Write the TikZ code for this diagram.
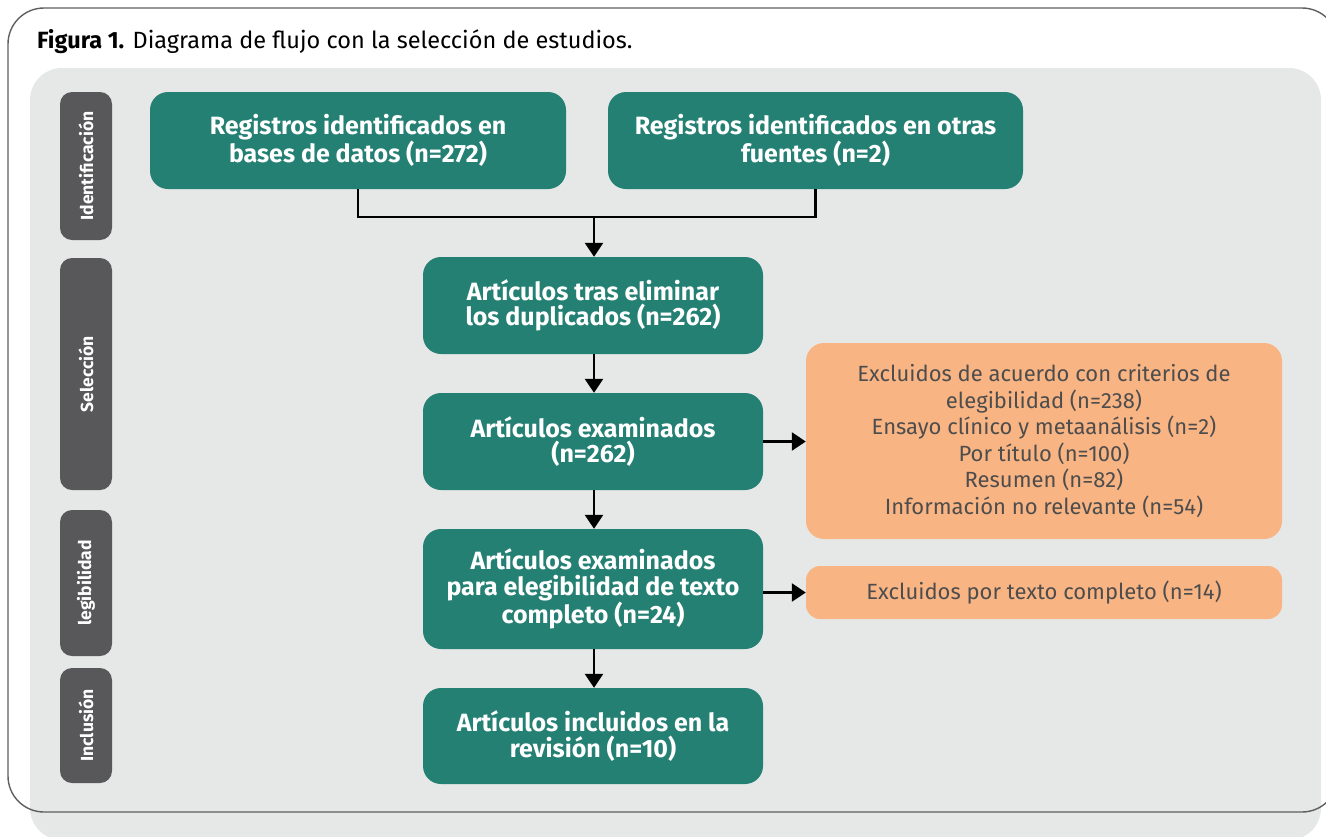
\documentclass[tikz,border=0pt]{standalone}
\usepackage{fontspec}
\setmainfont{Fira Sans}
\usetikzlibrary{arrows.meta}
\definecolor{teal1}{RGB}{36,128,115}
\definecolor{orng}{RGB}{249,180,131}
\definecolor{panel}{RGB}{229,232,231}
\definecolor{side}{RGB}{88,88,90}
\definecolor{frame}{RGB}{95,95,95}
\definecolor{otext}{RGB}{77,77,77}
\tikzset{
  gbox/.style={fill=teal1, rounded corners=18pt, text=white, align=center,
    font=\bfseries\fontsize{25}{25.5}\selectfont, inner sep=0pt},
  obox/.style={fill=orng, rounded corners=18pt, text=otext, align=center,
    font=\fontsize{22}{26.5}\selectfont, inner sep=0pt},
  sidebox/.style={fill=side, rounded corners=12pt, inner sep=0pt},
  sidetext/.style={text=white, rotate=90, font=\bfseries\fontsize{17.5}{18}\selectfont},
  conn/.style={line width=2.4pt, black},
  arr/.style={conn, -{Triangle[length=14pt,width=18pt]}},
}
\begin{document}
\begin{tikzpicture}[x=1pt,y=-1pt]
\useasboundingbox (0,0) rectangle (1326,836);
\clip (0,0) rectangle (1326,836);
\fill[white] (0,0) rectangle (1326,836);
% panel
\fill[panel, rounded corners=32pt] (30,68) rectangle (1321,840);
% frame
\draw[frame, line width=1.4pt, rounded corners=36pt] (8,8) rectangle (1338,812);
% title
\node[anchor=base west, inner sep=0pt, font=\fontsize{23.5}{25}\selectfont] (title) at (37,48)
  {\textbf{Figura 1.} Diagrama de flujo con la selección de estudios.};
% side labels
\node[sidebox, minimum width=52pt, minimum height=148pt] (s1) at (86,166) {};
\node[sidetext] at (s1.center) {Identificación};
\node[sidebox, minimum width=52pt, minimum height=232pt] (s2) at (86,374) {};
\node[sidetext] at (s2.center) {Selección};
\node[sidebox, minimum width=52pt, minimum height=146pt] (s3) at (86,583) {};
\node[sidetext] at (s3.center) {legibilidad};
\node[sidebox, minimum width=52pt, minimum height=115pt] (s4) at (86,725.5) {};
\node[sidetext] at (s4.center) {Inclusión};
% green boxes
\node[gbox, minimum width=416pt, minimum height=97pt] (b1) at (358,140.5)
  {Registros identificados en\\bases de datos (n=272)};
\node[gbox, minimum width=415pt, minimum height=97pt] (b2) at (815.5,140.5)
  {Registros identificados en otras\\fuentes (n=2)};
\node[gbox, minimum width=340pt, minimum height=97pt] (b3) at (593,305.5)
  {Artículos tras eliminar\\los duplicados (n=262)};
\node[gbox, minimum width=340pt, minimum height=97pt] (b4) at (593,441.5)
  {Artículos examinados\\(n=262)};
\node[gbox, minimum width=340pt, minimum height=120pt] (b5) at (593,589)
  {Artículos examinados\\para elegibilidad de texto\\completo (n=24)};
\node[gbox, minimum width=340pt, minimum height=96pt] (b6) at (593,736)
  {Artículos incluidos en la\\revisión (n=10)};
% orange boxes
\node[obox, minimum width=476pt, minimum height=196pt] (o1) at (1044,441)
  {Excluidos de acuerdo con criterios de\\elegibilidad (n=238)\\Ensayo clínico y metaanálisis (n=2)\\Por título (n=100)\\Resumen (n=82)\\Información no relevante (n=54)};
\node[obox, minimum width=476pt, minimum height=53pt, rounded corners=14pt] (o2) at (1044,592.5)
  {Excluidos por texto completo (n=14)};
% connectors
\coordinate (j) at (594,217);
\draw[conn] (b1.south) |- (j);
\draw[conn] (b2.south) |- (j);
\draw[arr] (j) -- (j |- b3.north);
\draw[arr] (b3.south -| j) -- (j |- b4.north);
\draw[arr] (b4.south -| j) -- (j |- b5.north);
\draw[arr] (b5.south -| j) -- (j |- b6.north);
\draw[arr] (b4.east) -- (o1.west |- b4.east);
\draw[arr] (b5.east |- o2.west) -- (o2.west);
\end{tikzpicture}
\end{document}
